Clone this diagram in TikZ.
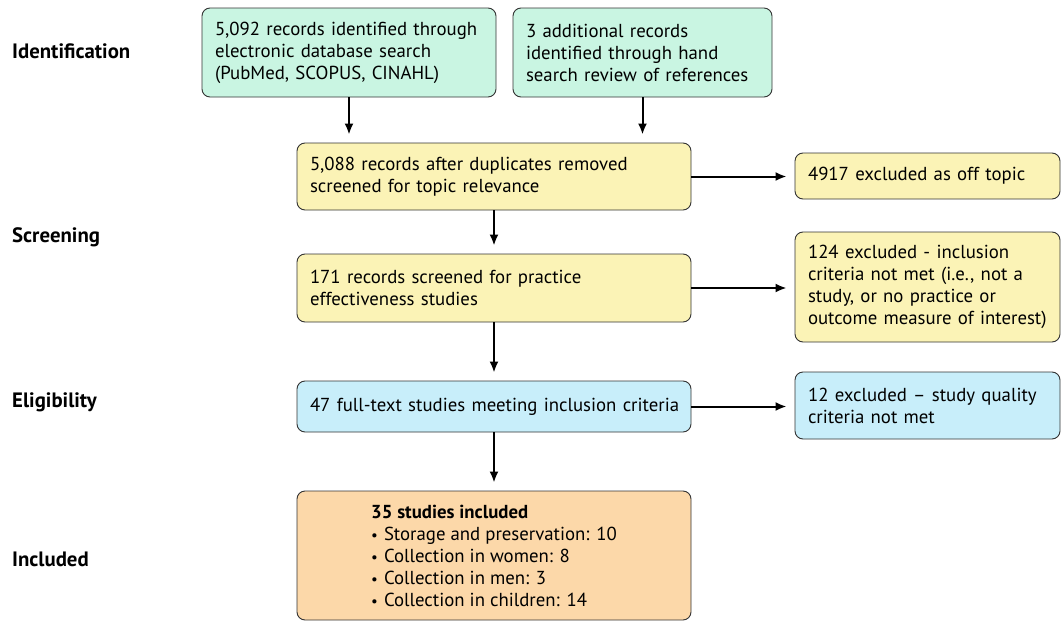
\documentclass[tikz,border=0pt]{standalone}
\usepackage{fontspec}
\setmainfont{PT Sans}
\usetikzlibrary{arrows.meta,positioning}

\definecolor{idgreen}{HTML}{C9F5E2}
\definecolor{scryellow}{HTML}{FBF3B6}
\definecolor{eligblue}{HTML}{C8EEFA}
\definecolor{inclorange}{HTML}{FCD8A9}

\newcommand{\itembul}{\hspace{0pt}{\fontsize{15}{22}\selectfont\textbullet}\hspace{6pt}}

\tikzset{
  box/.style={draw=black!80, rounded corners=8pt, line width=0.9pt, align=left,
    inner xsep=13pt, font=\fontsize{18.8}{22}\selectfont},
  flow/.style={-{Latex[length=11pt,width=9pt]}, line width=2pt, shorten >=8pt},
  stage/.style={anchor=west, inner xsep=0pt, font=\fontsize{20.8}{22}\selectfont\bfseries},
}

\begin{document}
\begin{tikzpicture}[x=1pt,y=-1pt]
    \useasboundingbox (0,0) rectangle (1061,621);

    % Stage labels (left)
    \node[stage] (lidentification) at (12,51) {Identification};
    \node[stage] (lscreening) at (12,237) {Screening};
    \node[stage] (leligibility) at (12,402) {Eligibility};
    \node[stage] (lincluded) at (12,559) {Included};

    % Identification
    \node[box, fill=idgreen, text width=268pt, minimum height=89pt] (database) at (349,52.5)
        {5,092 records identified through\\electronic database search\\(PubMed, SCOPUS, CINAHL)};
    \node[box, fill=idgreen, text width=233pt, minimum height=89pt] (handsearch) at (642.5,52.5)
        {3 additional records\\identified through hand\\search review of references};

    % Screening
    \node[box, fill=scryellow, text width=368pt, minimum height=67pt] (topic) at (494,176.5)
        {5,088 records after duplicates removed\\screened for topic relevance};
    \node[box, fill=scryellow, text width=239pt, minimum height=46pt] (offtopic) at (927.5,176)
        {4917 excluded as off topic};
    \node[box, fill=scryellow, text width=368pt, minimum height=68pt] (practice) at (494,288)
        {171 records screened for practice\\effectiveness studies};
    \node[box, fill=scryellow, text width=239pt, minimum height=110pt] (notmet) at (927.5,287)
        {124 excluded - inclusion\\criteria not met (i.e., not a\\study, or no practice or\\outcome measure of interest)};

    % Eligibility
    \node[box, fill=eligblue, text width=368pt, minimum height=51pt] (fulltext) at (494,406.5)
        {\mbox{47 full-text studies meeting inclusion criteria}};
    \node[box, fill=eligblue, text width=239pt, minimum height=67pt] (quality) at (927.5,405.5)
        {12 excluded -- study quality\\criteria not met};

    % Included
    \node[box, fill=inclorange, minimum width=394pt, minimum height=129pt] (included) at (494,555.5)
        {\textbf{35 studies included}\\
         \itembul Storage and preservation: 10\\
         \itembul Collection in women: 8\\
         \itembul Collection in men: 3\\
         \itembul Collection in children: 14};

    % Connectors
    \draw[flow] (database.south) -- (database.south |- topic.north);
    \draw[flow] (handsearch.south) -- (handsearch.south |- topic.north);
    \draw[flow] (topic.south) -- (practice.north);
    \draw[flow] (practice.south) -- (fulltext.north);
    \draw[flow] (fulltext.south) -- (included.north);
    \draw[flow] (topic.east) -- (topic.east -| offtopic.west);
    \draw[flow] (practice.east) -- (practice.east -| notmet.west);
    \draw[flow] (fulltext.east) -- (fulltext.east -| quality.west);
\end{tikzpicture}
\end{document}
